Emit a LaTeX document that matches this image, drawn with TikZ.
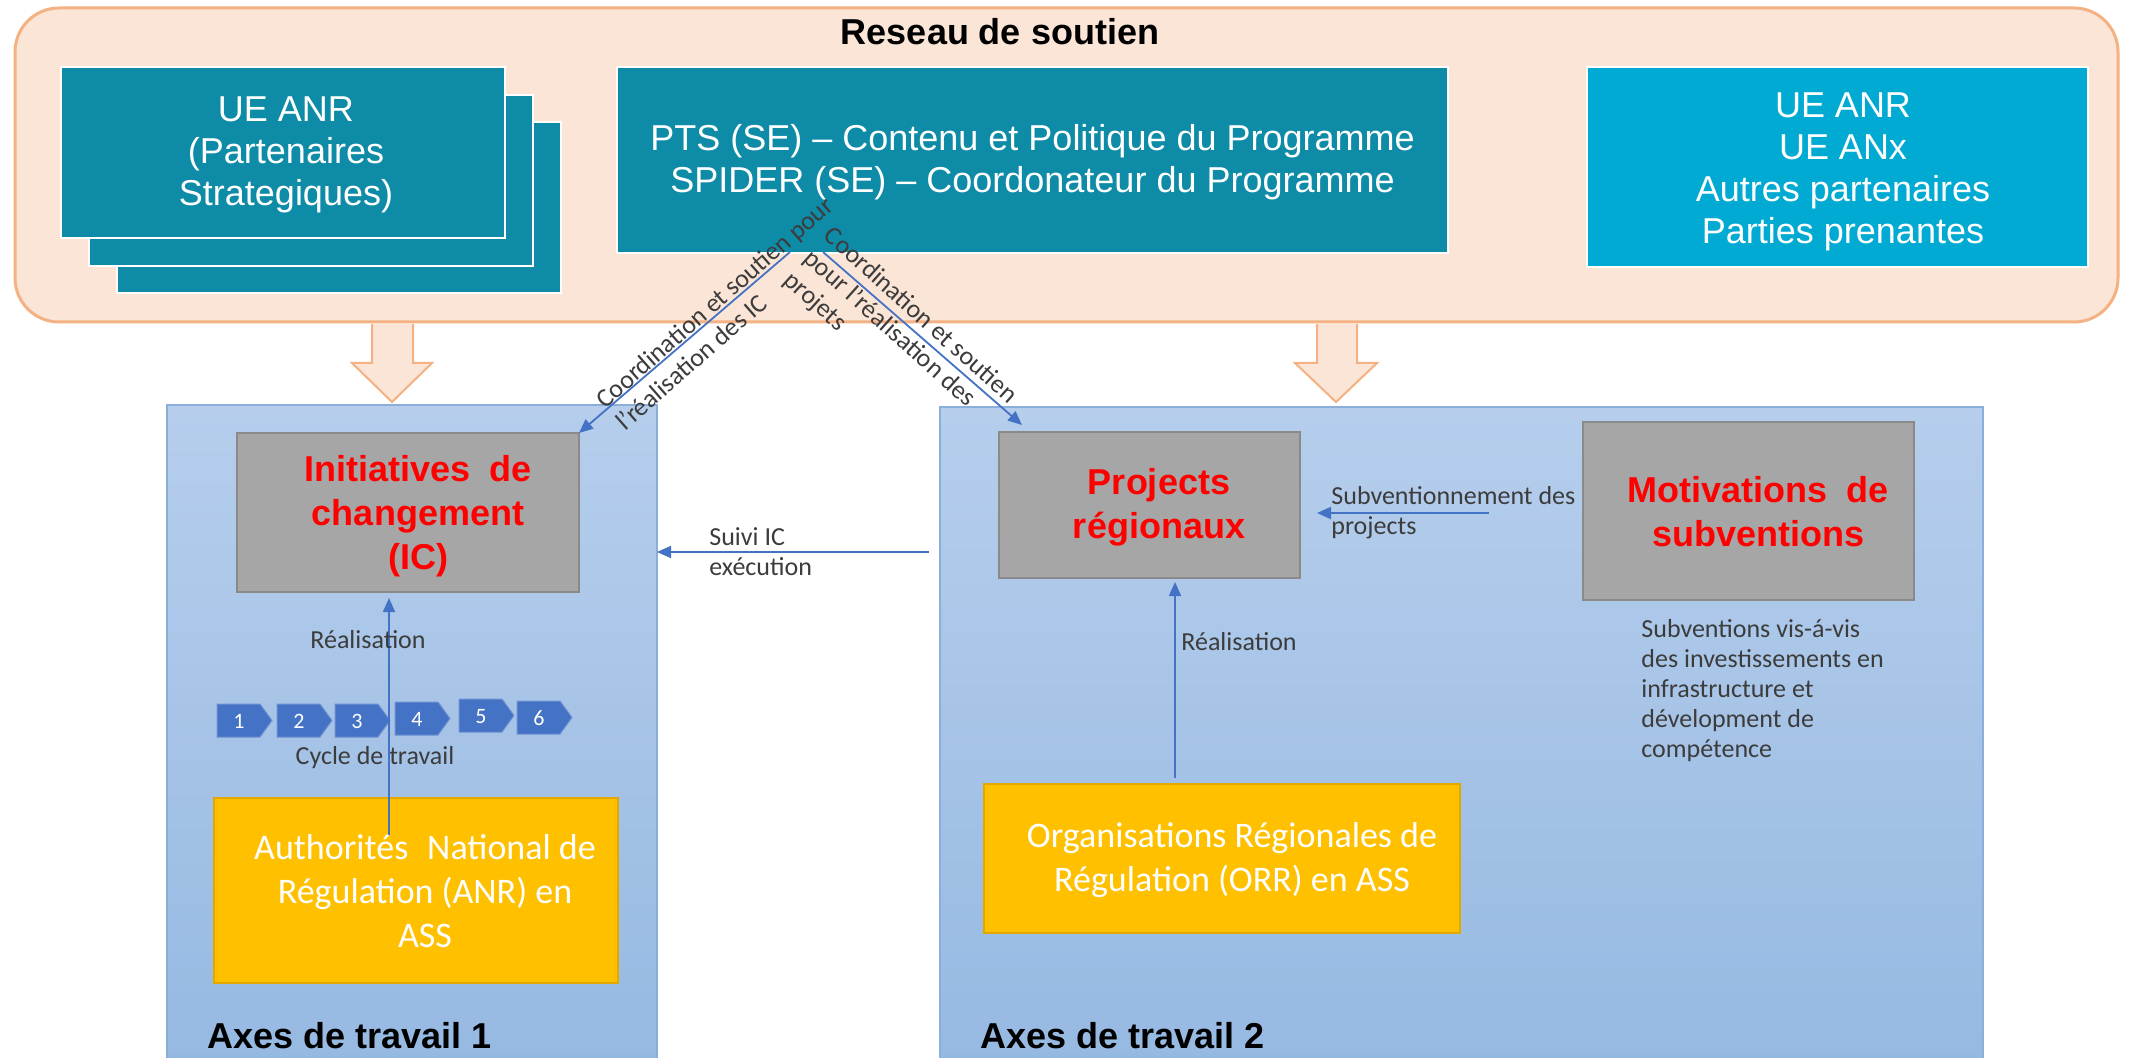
\documentclass[tikz,border=0pt]{standalone}
\usepackage{fontspec}
\setmainfont{Liberation Sans}
\newfontfamily\calfont{Carlito}
\usetikzlibrary{arrows.meta,calc}

\definecolor{peach}{RGB}{251,229,214}
\definecolor{orangeln}{RGB}{244,177,131}
\definecolor{teal1}{RGB}{14,139,166}
\definecolor{cyan1}{RGB}{0,170,210}
\definecolor{bluetop}{RGB}{182,206,236}
\definecolor{bluebot}{RGB}{150,185,226}
\definecolor{blueln}{RGB}{140,174,218}
\definecolor{grayfill}{RGB}{166,166,166}
\definecolor{grayln}{RGB}{138,138,138}
\definecolor{yel}{RGB}{255,192,0}
\definecolor{yelln}{RGB}{226,168,0}
\definecolor{arrblue}{RGB}{68,114,196}
\definecolor{txtgray}{RGB}{60,60,60}

\tikzset{
  outerbox/.style={draw=orangeln, fill=peach, line width=1.5pt, rounded corners=22pt, inner sep=0pt, outer sep=0pt},
  tealbox/.style={draw=white, fill=teal1, line width=1pt, inner sep=0pt, outer sep=0pt},
  cyanbox/.style={tealbox, fill=cyan1},
  toptxt/.style={text=white, align=center, inner sep=0pt, font=\fontsize{18pt}{21pt}\selectfont},
  axebox/.style={draw=blueln, top color=bluetop, bottom color=bluebot, line width=0.6pt, inner sep=0pt, outer sep=0pt},
  graybox/.style={draw=grayln, fill=grayfill, line width=1pt, inner sep=0pt, outer sep=0pt},
  redtxt/.style={text=red, align=center, inner sep=0pt, font=\bfseries\fontsize{18pt}{22pt}\selectfont},
  yelbox/.style={draw=yelln, fill=yel, line width=0.8pt, inner sep=0pt, outer sep=0pt},
  yeltxt/.style={text=white, align=center, inner sep=0pt, font=\calfont\fontsize{18pt}{22pt}\selectfont},
  blockarr/.style={draw=orangeln, fill=peach, line width=1pt, line join=miter},
  chev/.style={draw={rgb,255:red,110;green,145;blue,210}, fill=arrblue, line width=0.5pt},
  num/.style={text=white, inner sep=0pt, font=\calfont\fontsize{11pt}{13pt}\selectfont},
  arr/.style={draw=arrblue, line width=0.9pt, -{Triangle[length=7pt,width=6pt]}},
  lbl/.style={text=txtgray, inner sep=0pt, font=\calfont\fontsize{13pt}{15pt}\selectfont},
  axelbl/.style={text=black, inner sep=0pt, anchor=west, font=\bfseries\fontsize{18pt}{21pt}\selectfont},
}

\begin{document}
\begin{tikzpicture}[x=0.5pt,y=-0.5pt]
\useasboundingbox (0,0) rectangle (2129,1058);
\fill[white] (0,0) rectangle (2129,1058);

% support network
\node[outerbox, minimum width=1051.5pt, minimum height=157pt] (reseau) at (1066.5,165) {};
\node[font=\bfseries\fontsize{18pt}{21pt}\selectfont, inner sep=0pt] (titre) at (1000,32) {Reseau de soutien};

\node[tealbox, minimum width=222pt, minimum height=85.5pt] (ue3) at (339,207.5) {};
\node[tealbox, minimum width=222pt, minimum height=85.5pt] (ue2) at (311,180.5) {};
\node[tealbox, minimum width=222pt, minimum height=85.5pt] (ue1) at (283,152.5) {};
\node[toptxt] (ue1txt) at (286,155) {UE ANR\\(Partenaires\\Strategiques)};
\node[tealbox, minimum width=415.5pt, minimum height=93pt] (pts) at (1032.5,160) {};
\node[toptxt] (ptstxt) at (1032.5,162) {PTS (SE) -- Contenu et Politique du Programme\\SPIDER (SE) -- Coordonateur du Programme};
\node[cyanbox, minimum width=250.5pt, minimum height=100pt] (autres) at (1837.5,167) {};
\node[toptxt] (autrestxt) at (1843,172) {UE ANR\\UE ANx\\Autres partenaires\\Parties prenantes};

% block arrows
\draw[blockarr] (372,324) -- (372,363) -- (352,363) -- (392,402) -- (432,363) -- (413,363) -- (413,324);
\draw[blockarr] (1317,324) -- (1317,363) -- (1295,363) -- (1336,402) -- (1377,363) -- (1357,363) -- (1357,324);

% work axes
\node[axebox, minimum width=245pt, minimum height=328.5pt] (axe1) at (412,733.5) {};
\node[axebox, minimum width=521.5pt, minimum height=327.5pt] (axe2) at (1461.5,734.5) {};

\node[graybox, minimum width=171pt, minimum height=79.5pt] (ic) at (408,512.5) {};
\node[redtxt] (ictxt) at (418,516) {Initiatives\hspace{0.55em}de\\changement\\(IC)};
\node[graybox, minimum width=150.5pt, minimum height=73pt] (proj) at (1149.5,505) {};
\node[redtxt] (projtxt) at (1159,507) {Projects\\régionaux};
\node[graybox, minimum width=165.5pt, minimum height=89pt] (motiv) at (1748.5,511) {};
\node[redtxt] (motivtxt) at (1758,512) {Motivations\hspace{0.55em}de\\subventions};

\node[yelbox, minimum width=202pt, minimum height=92.5pt] (anr) at (416,890.5) {};
\node[yeltxt] (anrtxt) at (425,891) {Authorités\hspace{0.3em} National de\\Régulation (ANR) en\\ASS};
\node[yelbox, minimum width=238pt, minimum height=74.5pt] (orr) at (1222,858.5) {};
\node[yeltxt] (orrtxt) at (1232,860) {Organisations Régionales de\\Régulation (ORR) en ASS};

% work cycle
\foreach \i/\x/\y in {1/217/704, 2/277/704, 3/335/704, 4/395/702, 5/459/699, 6/517/701}{
  \draw[chev] (\x,\y) -- ++(43,0) -- ++(12,16.5) -- ++(-12,16.5) -- ++(-43,0) -- cycle;
  \node[num] (n\i) at (\x+22,\y+17.5) {\i};
}
\node[lbl] (cycle) at (375,758) {Cycle de travail};

% connectors
\coordinate (a1) at (389,835);
\draw[arr, shorten >=3pt] (a1) -- (a1 |- ic.south);
\coordinate (a2) at (1175,0);
\draw[arr, shorten <=3pt, shorten >=2pt] (orr.north -| a2) -- (proj.south -| a2);
\coordinate (sv) at (1489,513);
\draw[arr, shorten >=8.5pt] (sv) -- (sv -| proj.east);
\coordinate (si) at (929,552);
\draw[arr] (si) -- (si -| axe1.east);
\coordinate (d1) at (790,252);
\coordinate (d2) at (823,252);
\draw[arr] (d1) -- (ic.north east);
\draw[arr] (d2) -- ($(proj.north west)+(23,-7)$);

% labels
\node[lbl, anchor=west, align=left] (suivi) at (709,552) {Suivi IC\\exécution};
\node[lbl] (real1) at (368,640) {Réalisation};
\node[lbl] (real2) at (1239,642) {Réalisation};
\node[lbl, anchor=west, align=left] (subv) at (1331,513) {Subventionnement des\\projects};
\node[lbl, anchor=west, align=left] (subnote) at (1641,691) {Subventions vis-á-vis\\des investissements en\\infrastructure et\\dévelopment de\\compétence};
\node[lbl, anchor=west, align=left, rotate=41.2] (diag1) at (609,414) {Coordination et soutien pour\\l’réalisation des IC};
\node[lbl, anchor=west, align=left, rotate=-41.9] (diag2) at (807,255) {Coordination et soutien\\pour l’réalisation des\\projets};

\node[axelbl] (ax1) at (207,1036) {Axes de travail 1};
\node[axelbl] (ax2) at (980,1036) {Axes de travail 2};
\end{tikzpicture}
\end{document}
